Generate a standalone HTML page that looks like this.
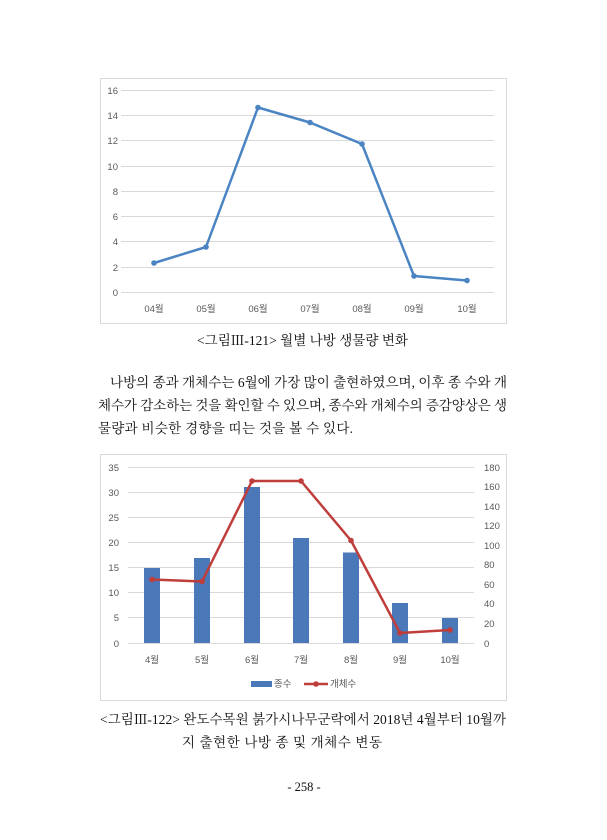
<!DOCTYPE html>
<html><head><meta charset="utf-8"><style>
html,body{margin:0;padding:0;background:#fff;}
svg{display:block;}
.ax{font-family:"Liberation Sans","Noto Sans CJK KR",sans-serif;font-size:9.5px;fill:#595959;}
.tx{font-family:"Liberation Serif","Noto Serif CJK SC",serif;font-size:13.5px;fill:#111;}
</style></head><body>
<svg width="607" height="840" viewBox="0 0 607 840" xmlns="http://www.w3.org/2000/svg">
<rect width="607" height="840" fill="#fff"/>
<!-- chart 1 -->
<rect x="100.5" y="78.5" width="406" height="245" fill="#fff" stroke="#d9d9d9"/>
<g stroke="#d9d9d9" stroke-width="1">
<line x1="121" y1="90.5" x2="494" y2="90.5"/><line x1="121" y1="115.5" x2="494" y2="115.5"/>
<line x1="121" y1="140.5" x2="494" y2="140.5"/><line x1="121" y1="166.5" x2="494" y2="166.5"/>
<line x1="121" y1="191.5" x2="494" y2="191.5"/><line x1="121" y1="216.5" x2="494" y2="216.5"/>
<line x1="121" y1="241.5" x2="494" y2="241.5"/><line x1="121" y1="267.5" x2="494" y2="267.5"/>
<line x1="121" y1="292.5" x2="494" y2="292.5"/>
</g>
<g class="ax" text-anchor="end">
<text x="118" y="94">16</text><text x="118" y="119">14</text><text x="118" y="144">12</text>
<text x="118" y="170">10</text><text x="118" y="195">8</text><text x="118" y="220">6</text>
<text x="118" y="245">4</text><text x="118" y="271">2</text><text x="118" y="296">0</text>
</g>
<g class="ax" text-anchor="middle">
<text x="154" y="312">04월</text><text x="206" y="312">05월</text><text x="258" y="312">06월</text>
<text x="310" y="312">07월</text><text x="362" y="312">08월</text><text x="414" y="312">09월</text>
<text x="467" y="312">10월</text>
</g>
<polyline fill="none" stroke="#4a84c2" stroke-width="2.5" stroke-linejoin="round"
points="154,263 206,247 258,107.5 310,122.5 362,144 414,276 467,280.5"/>
<g fill="#4a84c2">
<circle cx="154" cy="263" r="2.8"/><circle cx="206" cy="247" r="2.8"/><circle cx="258" cy="107.5" r="2.8"/>
<circle cx="310" cy="122.5" r="2.8"/><circle cx="362" cy="144" r="2.8"/><circle cx="414" cy="276" r="2.8"/>
<circle cx="467" cy="280.5" r="2.8"/>
</g>
<!-- text -->
<text class="tx" x="197" y="345" textLength="211" lengthAdjust="spacingAndGlyphs">&lt;그림Ⅲ-121&gt; 월별 나방 생물량 변화</text>
<text class="tx" x="110" y="387" textLength="397" lengthAdjust="spacing">나방의 종과 개체수는 6월에 가장 많이 출현하였으며, 이후 종 수와 개</text>
<text class="tx" x="98" y="410" textLength="409" lengthAdjust="spacing">체수가 감소하는 것을 확인할 수 있으며, 종수와 개체수의 증감양상은 생</text>
<text class="tx" x="98" y="433" textLength="255" lengthAdjust="spacing">물량과 비슷한 경향을 띠는 것을 볼 수 있다.</text>
<!-- chart 2 -->
<rect x="100.5" y="454.5" width="406" height="246" fill="#fff" stroke="#d9d9d9"/>
<g stroke="#d9d9d9" stroke-width="1">
<line x1="128" y1="467.5" x2="474" y2="467.5"/><line x1="128" y1="492.5" x2="474" y2="492.5"/>
<line x1="128" y1="517.5" x2="474" y2="517.5"/><line x1="128" y1="542.5" x2="474" y2="542.5"/>
<line x1="128" y1="567.5" x2="474" y2="567.5"/><line x1="128" y1="592.5" x2="474" y2="592.5"/>
<line x1="128" y1="617.5" x2="474" y2="617.5"/><line x1="128" y1="643.5" x2="474" y2="643.5"/>
</g>
<g class="ax" text-anchor="end">
<text x="119" y="471">35</text><text x="119" y="496">30</text><text x="119" y="521">25</text>
<text x="119" y="546">20</text><text x="119" y="571">15</text><text x="119" y="596">10</text>
<text x="119" y="621">5</text><text x="119" y="647">0</text>
</g>
<g class="ax" text-anchor="start">
<text x="484" y="471">180</text><text x="484" y="490">160</text><text x="484" y="510">140</text>
<text x="484" y="529">120</text><text x="484" y="549">100</text><text x="484" y="568">80</text>
<text x="484" y="588">60</text><text x="484" y="607">40</text><text x="484" y="627">20</text>
<text x="484" y="647">0</text>
</g>
<g fill="#4a78b8">
<rect x="144" y="568" width="16" height="75"/><rect x="194" y="558" width="16" height="85"/>
<rect x="244" y="487" width="16" height="156"/><rect x="293" y="538" width="16" height="105"/>
<rect x="343" y="552.5" width="16" height="90.5"/><rect x="392" y="603" width="16" height="40"/>
<rect x="442" y="618" width="16" height="25"/>
</g>
<polyline fill="none" stroke="#bf3d3a" stroke-width="2.5" stroke-linejoin="round"
points="152,579.5 202,581.5 252,481 301,481 351,540.5 400,633 450,630"/>
<g fill="#bf3d3a">
<circle cx="152" cy="579.5" r="2.8"/><circle cx="202" cy="581.5" r="2.8"/><circle cx="252" cy="481" r="2.8"/>
<circle cx="301" cy="481" r="2.8"/><circle cx="351" cy="540.5" r="2.8"/><circle cx="400" cy="633" r="2.8"/>
<circle cx="450" cy="630" r="2.8"/>
</g>
<g class="ax" text-anchor="middle">
<text x="152" y="663">4월</text><text x="202" y="663">5월</text><text x="252" y="663">6월</text>
<text x="301" y="663">7월</text><text x="351" y="663">8월</text><text x="400" y="663">9월</text>
<text x="450" y="663">10월</text>
</g>
<rect x="251" y="681" width="21" height="6" fill="#4a78b8"/>
<text class="ax" x="274" y="687">종수</text>
<line x1="304" y1="684" x2="328" y2="684" stroke="#bf3d3a" stroke-width="2.5"/>
<circle cx="316" cy="684" r="2.8" fill="#bf3d3a"/>
<text class="ax" x="330" y="687">개체수</text>
<text class="tx" x="100" y="724" textLength="406" lengthAdjust="spacing">&lt;그림Ⅲ-122&gt; 완도수목원 붉가시나무군락에서 2018년 4월부터 10월까</text>
<text class="tx" x="182" y="747" textLength="200" lengthAdjust="spacing">지 출현한 나방 종 및 개체수 변동</text>
<text class="tx" x="304" y="791" text-anchor="middle" style="font-size:12.5px">- 258 -</text>
</svg>
</body></html>
